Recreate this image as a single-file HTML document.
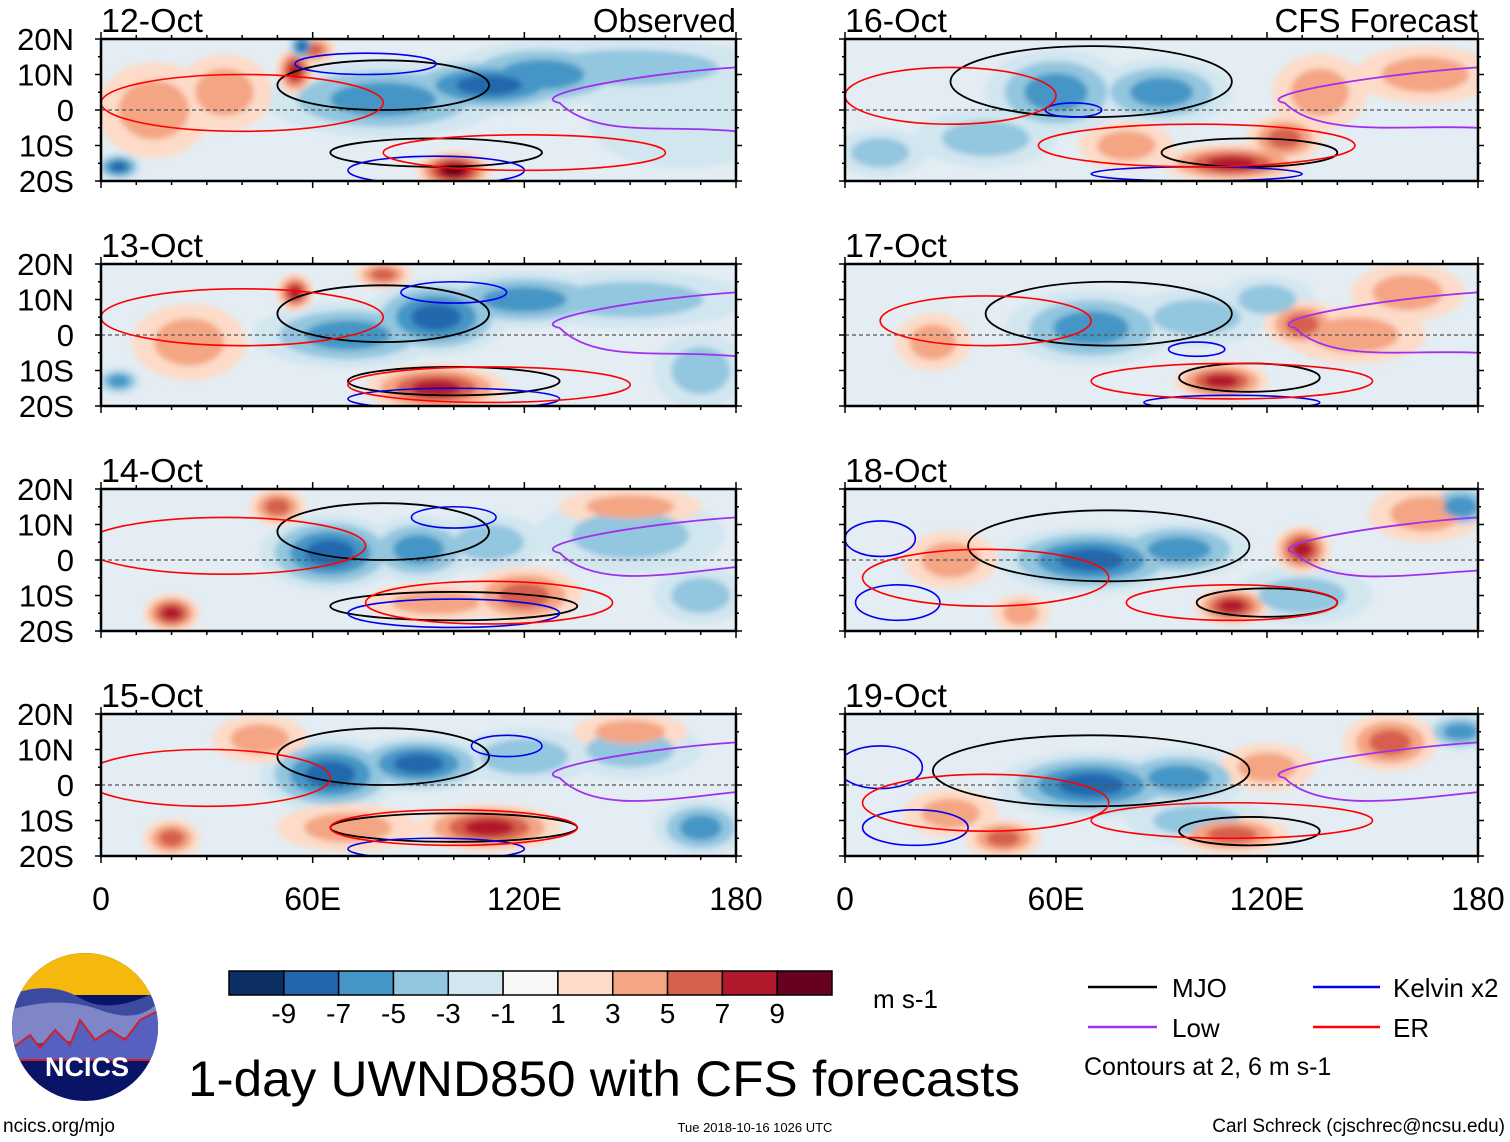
<!DOCTYPE html>
<html><head><meta charset="utf-8">
<style>
body{margin:0;background:#fff;}
svg{display:block;font-family:"Liberation Sans",sans-serif;}
</style></head>
<body>
<svg id="fig" width="1510" height="1142" viewBox="0 0 1510 1142">
<defs>
<filter id="blur" x="-30%" y="-30%" width="160%" height="160%"><feGaussianBlur stdDeviation="3"/></filter>
</defs>
<g id="panels"></g>
<g id="axes"></g>
<g id="colorbar"></g>
<g>
<clipPath id="logoclip"><ellipse cx="85" cy="1027" rx="73" ry="74"/></clipPath>
<g clip-path="url(#logoclip)">
<rect x="10" y="950" width="150" height="160" fill="#0a1466"/>
<rect x="10" y="950" width="150" height="45" fill="#f5b80c"/>
<path d="M10 995 Q50 980 80 998 T160 990 L160 1040 L10 1050Z" fill="#3c4aa0"/>
<path d="M10 1010 Q60 995 100 1010 T160 1000 L160 1035 L10 1045Z" fill="#7e86c8"/>
<path d="M10 1050 L30 1035 L40 1048 L55 1030 L70 1045 L80 1020 L95 1040 L110 1030 L125 1040 L140 1020 L160 1010 L160 1060 L10 1060Z" fill="#5560c0" stroke="#d0202a" stroke-width="2"/>
</g>
<text x="87" y="1076" font-size="27" font-weight="bold" fill="#fff" text-anchor="middle">NCICS</text>
</g>
<text x="188" y="1096" font-size="50" fill="#000" textLength="832" lengthAdjust="spacingAndGlyphs">1-day UWND850 with CFS forecasts</text>
<text x="3" y="1132" font-size="19" fill="#000">ncics.org/mjo</text>
<text x="755" y="1132" font-size="13" fill="#000" text-anchor="middle">Tue 2018-10-16 1026 UTC</text>
<text x="1505" y="1132" font-size="19" fill="#000" text-anchor="end">Carl Schreck (cjschrec@ncsu.edu)</text>
<text x="873" y="1008" font-size="26" fill="#000">m s-1</text>
<g>
<line x1="1088" y1="987" x2="1157" y2="987" stroke="#000" stroke-width="2.5"/>
<text x="1172" y="997" font-size="26">MJO</text>
<line x1="1313" y1="987" x2="1380" y2="987" stroke="#0000ee" stroke-width="2.5"/>
<text x="1393" y="997" font-size="26">Kelvin x2</text>
<line x1="1088" y1="1027" x2="1157" y2="1027" stroke="#a030f0" stroke-width="2.5"/>
<text x="1172" y="1037" font-size="26">Low</text>
<line x1="1313" y1="1027" x2="1380" y2="1027" stroke="#ff0000" stroke-width="2.5"/>
<text x="1393" y="1037" font-size="26">ER</text>
<text x="1084" y="1075" font-size="25">Contours at 2, 6 m s-1</text>
</g>
</svg>
<script>
const NS="http://www.w3.org/2000/svg";
const cbColors=["#0b2f62","#2267ad","#4596c6","#93c6df","#d2e6f0","#f7f7f7","#fddbc8","#f4a583","#d6604e","#b2182b","#67011f"];
const cbLabels=["-9","-7","-5","-3","-1","1","3","5","7","9"];
const panelTitles=["12-Oct","13-Oct","14-Oct","15-Oct","16-Oct","17-Oct","18-Oct","19-Oct"];
const latLabels=["20N","10N","0","10S","20S"];
const lonLabels=["0","60E","120E","180"];
// blobs: [lon, lat, value(m/s), radius-lon(deg), radius-lat(deg)]
const blobs0=[[80,3,-5,25,8],[110,7,-7,20,6],[125,10,-5,20,7],[150,12,-3,30,6],[165,-3,-2,20,10],[55,11,8,4,5],[100,-17,9,8,4],[60,17,6,5,3],[15,0,3,12,10],[35,5,3,10,8],[5,-16,-7,5,3],[57,18,-7,3,3]];
const blobs1=[[70,0,-6,20,7],[95,5,-7,15,8],[120,10,-5,20,6],[150,10,-3,25,6],[170,-10,-3,10,8],[55,12,7,4,4],[95,-15,8,15,5],[80,17,5,6,3],[25,-2,3,12,8],[5,-13,-5,5,3]];
const blobs2=[[65,2,-7,15,8],[90,3,-6,12,7],[110,5,-4,12,6],[150,7,-3,20,8],[170,-10,-3,10,6],[120,-10,6,12,6],[95,-12,4,15,4],[20,-15,7,6,4],[50,15,5,6,4],[150,15,3,15,4]];
const blobs3=[[65,3,-7,15,8],[90,6,-7,15,6],[120,8,-4,15,6],[170,-12,-5,10,6],[150,10,-3,15,6],[110,-12,7,15,5],[70,-12,4,15,5],[20,-15,6,6,4],[45,13,4,10,5],[150,15,3,12,4]];
const blobs4=[[60,5,-5,15,9],[90,5,-6,15,7],[40,-8,-3,15,6],[10,-12,-4,10,5],[110,-15,8,15,4],[125,-8,5,8,5],[135,5,4,10,8],[165,10,3,15,6],[80,-10,3,10,5]];
const blobs5=[[70,2,-6,18,8],[100,5,-4,15,6],[120,10,-3,10,5],[107,-13,8,10,4],[130,3,6,8,5],[25,-2,4,8,6],[160,12,4,12,6],[145,0,3,15,6]];
const blobs6=[[70,0,-7,20,7],[95,3,-5,15,6],[175,15,-5,8,5],[130,-10,-3,15,6],[110,-13,8,8,4],[130,3,7,6,5],[165,13,4,12,6],[30,0,3,10,6],[50,-15,4,6,4]];
const blobs7=[[70,0,-7,20,7],[95,2,-5,15,6],[100,-10,-4,15,5],[175,15,-6,8,4],[110,-14,6,12,4],[155,12,5,10,6],[45,-15,5,8,4],[30,-8,4,10,5],[120,5,4,10,5]];
const allBlobs=[blobs0,blobs1,blobs2,blobs3,blobs4,blobs5,blobs6,blobs7];
// MJO contours: [lonC, latC, rLon, rLat]
const mjoN=[[80,7,30,7],[80,6,30,8],[80,8,30,8],[80,8,30,8],[70,8,40,10],[75,6,35,9],[75,4,40,10],[70,4,45,10]];
const mjoS=[[95,-12,30,4],[100,-13,30,4],[100,-13,35,4],[100,-12,35,4],[115,-12,25,4],[115,-12,20,4],[120,-12,20,4],[115,-13,20,4]];
// Low (purple) arcs: [startLat, minLon, endLat]
const lowArc=[[12,130,-6],[12,130,-6],[12,130,-2],[12,130,-2],[12,125,-5],[12,128,-5],[12,128,-3],[12,125,-2]];
// ER (red) loops: [lonC, latC, rLon, rLat]
const erA=[[40,2,40,8],[40,5,40,8],[35,4,40,8],[30,2,35,8],[30,4,30,8],[40,4,30,7],[40,-5,35,8],[40,-5,35,8]];
const erB=[[120,-12,40,5],[110,-14,40,5],[110,-12,35,6],[100,-12,35,5],[100,-10,45,6],[110,-13,40,5],[110,-12,30,5],[110,-10,40,5]];
// Kelvin (blue) loops: [lonC, latC, rLon, rLat]
const kelvinA=[[75,13,20,3],[100,12,15,3],[100,12,12,3],[115,11,10,3],[65,0,8,2],[100,-4,8,2],[10,6,10,5],[10,5,12,6]];
const kelvinB=[[95,-17,25,4],[100,-18,30,3],[100,-15,30,4],[95,-18,25,3],[100,-18,30,2],[110,-19,25,2],[15,-12,12,5],[20,-12,15,5]];

function color(v){let i=Math.floor((v+11)/2);i=Math.max(0,Math.min(10,i));return cbColors[i];}
function mk(tag,attrs,parent){const e=document.createElementNS(NS,tag);for(const k in attrs)e.setAttribute(k,attrs[k]);parent.appendChild(e);return e;}

const cols=[{x0:101,w:635},{x0:845,w:633}];
const tops=[39,264,489,714];
const H=142;
const panelsG=document.getElementById('panels');
const axesG=document.getElementById('axes');

for(let p=0;p<8;p++){
  const c=cols[Math.floor(p/4)],y0=tops[p%4];
  const X=lon=>c.x0+lon/180*c.w, Y=lat=>y0+(20-lat)/40*H;
  const sx=c.w/180, sy=H/40;
  const g=mk('g',{},panelsG);
  
  
  const cp=mk('clipPath',{id:'cp'+p},g);
  mk('rect',{x:c.x0,y:y0,width:c.w,height:H},cp);
  const inner=mk('g',{'clip-path':'url(#cp'+p+')'},g);
  mk('rect',{x:c.x0,y:y0,width:c.w,height:H,fill:'#e4edf3'},inner);
  const bg=mk('g',{filter:'url(#blur)'},inner);
  const rings=[];
  allBlobs[p].forEach(b=>{
    const [lon,lat,v,rl,rt]=b;
    const sg=Math.sign(v),lvls=[];
    for(let t=2;t<=Math.abs(v)+1;t+=2) lvls.push(sg*t);
    lvls.forEach((t,k)=>{
      const f=1.35*(1-k/(lvls.length+0.6));
      rings.push({lon,lat,t,rx:rl*sx*f,ry:rt*sy*f});
    });
  });
  rings.sort((a,b)=>Math.abs(a.t)-Math.abs(b.t));
  rings.forEach(r=>{
    const e=mk('ellipse',{cx:X(r.lon),cy:Y(r.lat),rx:r.rx,ry:r.ry,fill:color(r.t)},bg);
    
    
  });
  mk('line',{x1:c.x0,y1:Y(0),x2:c.x0+c.w,y2:Y(0),stroke:'#555','stroke-dasharray':'4 3','stroke-width':1.2},inner);
  const m=mjoN[p];
  const e1=mk('ellipse',{cx:X(m[0]),cy:Y(m[1]),rx:m[2]*sx,ry:m[3]*sy,fill:'none',stroke:'#000','stroke-width':1.8},inner);
  
  
  const s=mjoS[p];
  const e2=mk('ellipse',{cx:X(s[0]),cy:Y(s[1]),rx:s[2]*sx,ry:s[3]*sy,fill:'none',stroke:'#000','stroke-width':1.8},inner);
  
  
  [kelvinA[p],kelvinB[p]].forEach(r=>{
    const e=mk('ellipse',{cx:X(r[0]),cy:Y(r[1]),rx:r[2]*sx,ry:r[3]*sy,fill:'none',stroke:'#0000ee','stroke-width':1.6},inner);
    
    
  });
  [erA[p],erB[p]].forEach(r=>{
    const e=mk('ellipse',{cx:X(r[0]),cy:Y(r[1]),rx:r[2]*sx,ry:r[3]*sy,fill:'none',stroke:'#ff0000','stroke-width':1.6},inner);
    
    
  });
  const la=lowArc[p];
  const pa=mk('path',{d:`M${X(180)} ${Y(la[0])} C${X(150)} ${Y(la[0]-2)} ${X(la[1]-10)} ${Y(4)} ${X(la[1])} ${Y(2)} C${X(la[1]+10)} ${Y(-8)} ${X(160)} ${Y(-4)} ${X(180)} ${Y(la[2])}`,fill:'none',stroke:'#a030f0','stroke-width':1.8},inner);
  
  
  const fr=mk('rect',{x:c.x0,y:y0,width:c.w,height:H,fill:'none',stroke:'#000','stroke-width':2.5},g);
  
  
  for(let lon=0;lon<=180;lon+=10){
    const len=lon%60===0?7:4;
    mk('line',{x1:X(lon),y1:y0,x2:X(lon),y2:y0-len,stroke:'#000','stroke-width':1.5},g);
    mk('line',{x1:X(lon),y1:y0+H,x2:X(lon),y2:y0+H+len,stroke:'#000','stroke-width':1.5},g);
  }
  for(let lat=-20;lat<=20;lat+=5){
    const len=lat%10===0?6:3;
    mk('line',{x1:c.x0,y1:Y(lat),x2:c.x0-len,y2:Y(lat),stroke:'#000','stroke-width':1.5},g);
    mk('line',{x1:c.x0+c.w,y1:Y(lat),x2:c.x0+c.w+len,y2:Y(lat),stroke:'#000','stroke-width':1.5},g);
  }
  const t=mk('text',{x:c.x0,y:y0-7,'font-size':33,textLength:102,lengthAdjust:'spacingAndGlyphs'},g);t.textContent=panelTitles[p];
  
  
  if(p%4===0){
    const r=mk('text',{x:c.x0+c.w,y:y0-7,'font-size':33,'text-anchor':'end'},g);
    r.textContent=p===0?'Observed':'CFS Forecast';
    
    
  }
  if(p<4){
    latLabels.forEach((l,i)=>{
      const tx=mk('text',{x:74,y:y0+i*H/4+11,'font-size':31,'text-anchor':'end'},g);
      tx.textContent=l;
      
      
    });
  }
}
cols.forEach(c=>{
  lonLabels.forEach((l,i)=>{
    const tx=mk('text',{x:c.x0+i*c.w/3,y:910,'font-size':32,'text-anchor':'middle'},axesG);
    tx.textContent=l;
    
    
  });
});
const cb=document.getElementById('colorbar');
const cbX=229,cbW=603,cbY=971,cbH=24,seg=cbW/cbColors.length;
cbColors.forEach((col,i)=>{
  const r=mk('rect',{x:cbX+i*seg,y:cbY,width:seg,height:cbH,fill:col,stroke:'#000','stroke-width':1.5},cb);
  
  
});
cbLabels.forEach((l,i)=>{
  const tx=mk('text',{x:cbX+(i+1)*seg,y:1023,'font-size':28,'text-anchor':'middle'},cb);
  tx.textContent=l;
  
  
});
</script>
</body></html>
